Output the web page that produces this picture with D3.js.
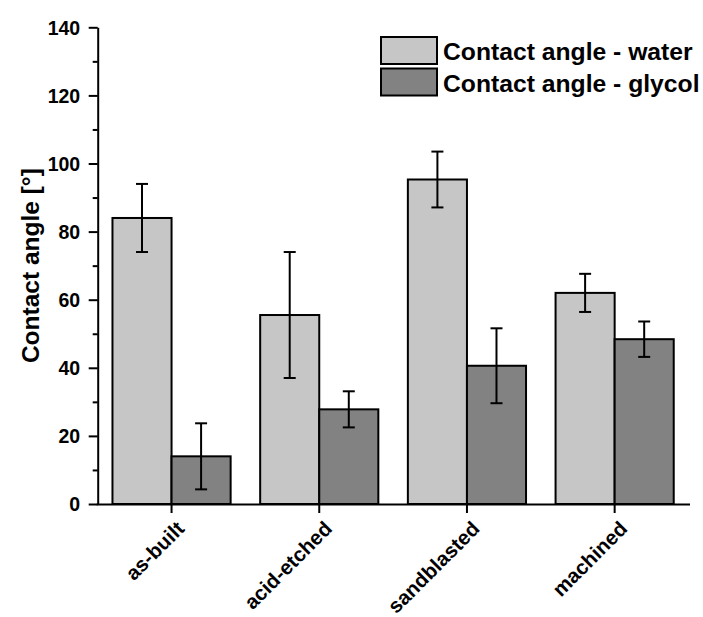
<!DOCTYPE html>
<html><head><meta charset="utf-8">
<script src="https://cdn.jsdelivr.net/npm/d3@7"></script>
<style>html,body{margin:0;padding:0;background:#fff;}</style>
</head><body>
<svg id="c" width="703" height="617"></svg>
<script>
const categories = ["as-built", "acid-etched", "sandblasted", "machined"];
const seriesNames = ["Contact angle - water", "Contact angle - glycol"];
const waterValues = [84.0, 55.5, 95.3, 62.0];
const waterErrors = [10.0, 18.5, 8.2, 5.6];
const glycolValues = [14.0, 27.8, 40.6, 48.4];
const glycolErrors = [9.7, 5.3, 11.0, 5.2];
const yTicks = [0, 20, 40, 60, 80, 100, 120, 140];
const yMinorTicks = [10, 30, 50, 70, 90, 110, 130];

const colors = ["#c6c6c6", "#828282"];
const font = "'Liberation Sans', Arial, sans-serif";

const svg = d3.select("#c");
const mLeft = 97.7, mRight = 690, mTop = 27.3, mBottom = 504;

const x = d3.scaleBand().domain(categories).range([mLeft, mRight - 1.5]).paddingInner(0).paddingOuter(0);
const y = d3.scaleLinear().domain([0, 140]).range([mBottom, mTop]);
const barW = x.bandwidth() * 0.4;

const series = [
  {name: seriesNames[0], values: waterValues, errors: waterErrors, color: colors[0], off: -1},
  {name: seriesNames[1], values: glycolValues, errors: glycolErrors, color: colors[1], off: 0}
];

const g = svg.append("g");
series.forEach(s => {
  categories.forEach((c, i) => {
    const cx = x(c) + x.bandwidth() / 2;
    const x0 = cx + s.off * barW;
    g.append("rect")
      .attr("x", x0).attr("y", y(s.values[i]))
      .attr("width", barW).attr("height", y(0) - y(s.values[i]))
      .attr("fill", s.color).attr("stroke", "#000").attr("stroke-width", 2);
  });
});
// error bars
series.forEach(s => {
  categories.forEach((c, i) => {
    const cx = x(c) + x.bandwidth() / 2 + (s.off + 0.5) * barW;
    const hi = y(s.values[i] + s.errors[i]), lo = y(s.values[i] - s.errors[i]);
    g.append("line").attr("x1", cx).attr("x2", cx).attr("y1", hi).attr("y2", lo)
      .attr("stroke", "#000").attr("stroke-width", 2);
    [hi, lo].forEach(yy => g.append("line").attr("x1", cx - 6).attr("x2", cx + 6)
      .attr("y1", yy).attr("y2", yy).attr("stroke", "#000").attr("stroke-width", 2));
  });
});

// y axis
const yAxis = svg.append("g").attr("transform", `translate(${mLeft},0)`)
  .call(d3.axisLeft(y).tickValues(yTicks).tickSize(9).tickPadding(8.5).tickSizeOuter(0));
svg.append("g").attr("transform", `translate(${mLeft},0)`)
  .call(d3.axisLeft(y).tickValues(yMinorTicks).tickSize(5).tickFormat("").tickSizeOuter(0))
  .call(a => a.select(".domain").remove());
yAxis.selectAll("text").attr("font-family", font).attr("font-weight", "bold").attr("font-size", 19.5).attr("fill", "#000").attr("dy", "0.35em");
svg.selectAll(".tick line").attr("stroke", "#000").attr("stroke-width", 2);
yAxis.select(".domain").attr("stroke", "#000").attr("stroke-width", 2);

// x axis
const xAxis = svg.append("g").attr("transform", `translate(0,${mBottom})`)
  .call(d3.axisBottom(x).tickSize(9).tickSizeOuter(0).tickFormat(""));
xAxis.select(".domain").attr("stroke", "#000").attr("stroke-width", 2).attr("d", `M${mLeft - 1},0.5H${mRight}`);
xAxis.selectAll(".tick line").attr("stroke", "#000").attr("stroke-width", 2);
categories.forEach(c => {
  const tx = x(c) + x.bandwidth() / 2;
  svg.append("text").attr("transform", `translate(${tx + 14},${530}) rotate(-45)`)
    .attr("text-anchor", "end").attr("font-family", font).attr("font-weight", "bold")
    .attr("font-size", 20.5).attr("fill", "#000").text(c);
});

// y label
svg.append("text").attr("transform", `translate(38.5,${(mTop + mBottom) / 2}) rotate(-90)`)
  .attr("text-anchor", "middle").attr("font-family", font).attr("font-weight", "bold")
  .attr("font-size", 24.5).attr("fill", "#000").text("Contact angle [°]");

// legend
series.forEach((s, i) => {
  const ly = 37 + i * 31.5;
  svg.append("rect").attr("x", 381).attr("y", ly).attr("width", 56).attr("height", 27)
    .attr("fill", s.color).attr("stroke", "#000").attr("stroke-width", 2);
  svg.append("text").attr("x", 443).attr("y", ly + 23).attr("font-family", font)
    .attr("font-weight", "bold").attr("font-size", 24.7).attr("fill", "#000").text(s.name);
});
</script>
</body></html>
